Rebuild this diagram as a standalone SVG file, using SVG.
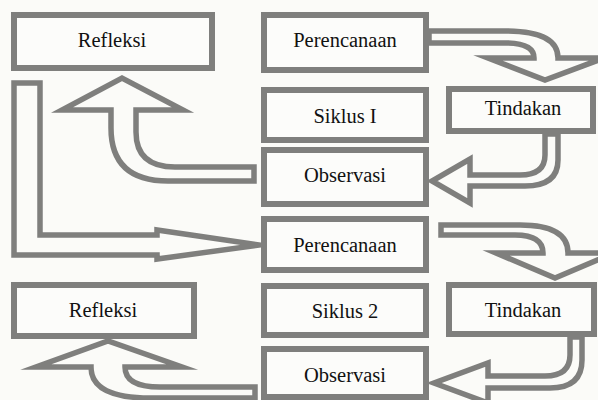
<svg xmlns="http://www.w3.org/2000/svg" width="598" height="400" viewBox="0 0 598 400">
<style>
.box{fill:#fcfcfa;stroke:#7f7f7d;stroke-width:6}
.arr{fill:none;stroke:#7f7f7d;stroke-width:5.5;stroke-linejoin:miter;stroke-miterlimit:10}
.t{font-family:"Liberation Serif","Times New Roman",serif;font-size:20.5px;fill:#111;text-anchor:middle}
</style>
<rect width="598" height="400" fill="#fbfbf8"/>
<g id="connectors">
<path class="arr" d="M254 167 L254 181 L168 181 Q111 181 111 128 L111 110 L62 110 L122 78 L183 110 L136 110 L136 132 Q136 167 175 167 Z"/>
<path class="arr" d="M14 83 L40 83 L40 235 L157 235 L157 230 L259 245 L157 259 L157 255 L14 255 Z"/>
<path class="arr" d="M429 31 L505 31 Q558 31 558 58 L604 58 L545 80 L488 58 L534 58 Q534 43 505 43 L429 43 Z"/>
<path class="arr" d="M545 134 L558 134 L558 160 Q558 186 525 186 L470 186 L470 203 L432 181 L470 159 L470 175 L520 175 Q545 175 545 155 Z"/>
<path class="arr" d="M441 225 L520 225 Q568 225 568 253 L614 253 L555 278 L496 253 L543 253 Q543 235 515 235 L441 235 Z"/>
<path class="arr" d="M570 337 L582 337 L582 360 Q582 388 550 388 L488 388 L488 403 L434 383 L488 363 L488 376 L545 376 Q570 376 570 355 Z"/>
<path class="arr" d="M255 387 L255 398 L150 398 Q91 398 91 367 L36 367 L108 341 L182 367 L125 367 Q125 387 160 387 Z"/>
</g>
<g id="refleksi1"><rect class="box" x="14" y="15" width="198" height="53"/><text class="t" x="112" y="47">Refleksi</text></g>
<g id="perencanaan1"><rect class="box" x="264" y="15" width="162" height="55"/><text class="t" x="345" y="47">Perencanaan</text></g>
<g id="siklus1"><rect class="box" x="264" y="90" width="162" height="50"/><text class="t" x="345" y="123">Siklus I</text></g>
<g id="observasi1"><rect class="box" x="264" y="150" width="162" height="54"/><text class="t" x="345" y="182">Observasi</text></g>
<g id="tindakan1"><rect class="box" x="449" y="89" width="144" height="42"/><text class="t" x="523" y="115">Tindakan</text></g>
<g id="perencanaan2"><rect class="box" x="264" y="219" width="162" height="51"/><text class="t" x="345" y="252">Perencanaan</text></g>
<g id="siklus2"><rect class="box" x="264" y="286" width="162" height="49"/><text class="t" x="345" y="318">Siklus 2</text></g>
<g id="observasi2"><rect class="box" x="264" y="349" width="162" height="48"/><text class="t" x="345" y="382">Observasi</text></g>
<g id="refleksi2"><rect class="box" x="14" y="285" width="180" height="51"/><text class="t" x="103" y="317">Refleksi</text></g>
<g id="tindakan2"><rect class="box" x="449" y="285" width="145" height="49"/><text class="t" x="523" y="317">Tindakan</text></g>
</svg>
